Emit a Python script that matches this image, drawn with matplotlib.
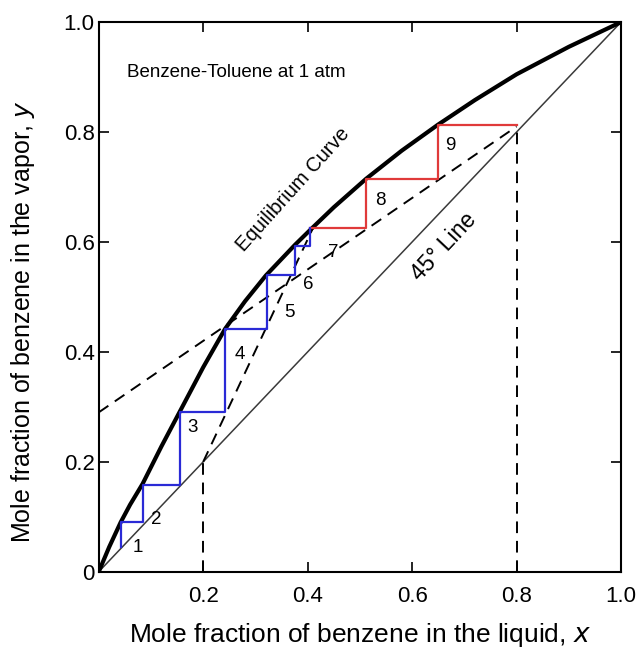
import matplotlib.pyplot as plt

plt.rcParams['font.family'] = ['Liberation Sans', 'DejaVu Sans']

# equilibrium curve
eq_x = [0.0, 0.02, 0.042, 0.06, 0.084, 0.12, 0.155, 0.2, 0.242, 0.28, 0.32,
        0.376, 0.405, 0.45, 0.512, 0.58, 0.649, 0.72, 0.8, 0.9, 1.0]
eq_y = [0.0, 0.045, 0.09, 0.122, 0.16, 0.228, 0.291, 0.372, 0.442, 0.492, 0.539,
        0.595, 0.622, 0.663, 0.715, 0.766, 0.813, 0.858, 0.905, 0.955, 1.0]

# operating lines
rect_x = [0.0, 0.8]
rect_y = [0.29, 0.81]
strip_x = [0.2, 0.41]
strip_y = [0.2, 0.625]

# stages (red = top section, blue = bottom section)
red_x = [0.80, 0.649, 0.649, 0.512, 0.512, 0.405]
red_y = [0.813, 0.813, 0.715, 0.715, 0.625, 0.625]
blue_x = [0.405, 0.405, 0.376, 0.376, 0.322, 0.322, 0.242, 0.242,
          0.155, 0.155, 0.084, 0.084, 0.042, 0.042]
blue_y = [0.625, 0.593, 0.593, 0.539, 0.539, 0.442, 0.442, 0.291,
          0.291, 0.158, 0.158, 0.09, 0.09, 0.045]

stage_labels = ['1', '2', '3', '4', '5', '6', '7', '8', '9']
stage_lx = [0.075, 0.111, 0.18, 0.27, 0.365, 0.401, 0.449, 0.539, 0.674]
stage_ly = [0.044, 0.095, 0.262, 0.396, 0.471, 0.522, 0.58, 0.676, 0.775]

xticks = [0.2, 0.4, 0.6, 0.8, 1.0]
yticks = [0, 0.2, 0.4, 0.6, 0.8, 1.0]

fig = plt.figure(figsize=(6.37, 6.49), dpi=100)
ax = fig.add_axes([0.155, 0.119, 0.82, 0.847])

ax.plot([0, 1], [0, 1], color='#3a3a3a', lw=1.1)
ax.plot(eq_x, eq_y, color='black', lw=3.0, solid_joinstyle='round')

dash = dict(color='black', lw=1.4, ls=(0, (6, 4)))
ax.plot(rect_x, rect_y, **dash)
ax.plot(strip_x, strip_y, **dash)
ax.plot([0.2, 0.2], [0, 0.2], **dash)
ax.plot([0.8, 0.8], [0, 0.81], **dash)

ax.plot(red_x, red_y, color='#e03a3a', lw=1.6)
ax.plot(blue_x, blue_y, color='#2a2ad6', lw=1.6)

for s, lx, ly in zip(stage_labels, stage_lx, stage_ly):
    ax.text(lx, ly, s, fontsize=13.5, ha='center', va='center')

ax.text(0.054, 0.909, 'Benzene-Toluene at 1 atm', fontsize=13.5, va='center')
ax.text(0.372, 0.695, 'Equilibrium Curve', fontsize=14.5, rotation=48,
        ha='center', va='center')
ax.text(0.66, 0.592, '45° Line', fontsize=16.5, rotation=47,
        ha='center', va='center')

ax.set_xlim(0, 1)
ax.set_ylim(0, 1)
ax.set_xticks(xticks)
ax.set_xticklabels([f'{v:.1f}' for v in xticks])
ax.set_yticks(yticks)
ax.set_yticklabels(['0'] + [f'{v:.1f}' for v in yticks[1:]])
ax.tick_params(direction='in', length=7, width=1.2, top=True, right=True,
               labelsize=16)
ax.tick_params(axis='x', pad=10)
ax.tick_params(axis='y', pad=3)
for sp in ax.spines.values():
    sp.set_linewidth(1.5)

ax.set_xlabel('Mole fraction of benzene in the liquid, $x$', fontsize=19, labelpad=10)
ax.set_ylabel('Mole fraction of benzene in the vapor, $y$', fontsize=18)
ax.yaxis.set_label_coords(-0.118, 0.455)

fig.savefig('out.png', dpi=100)
